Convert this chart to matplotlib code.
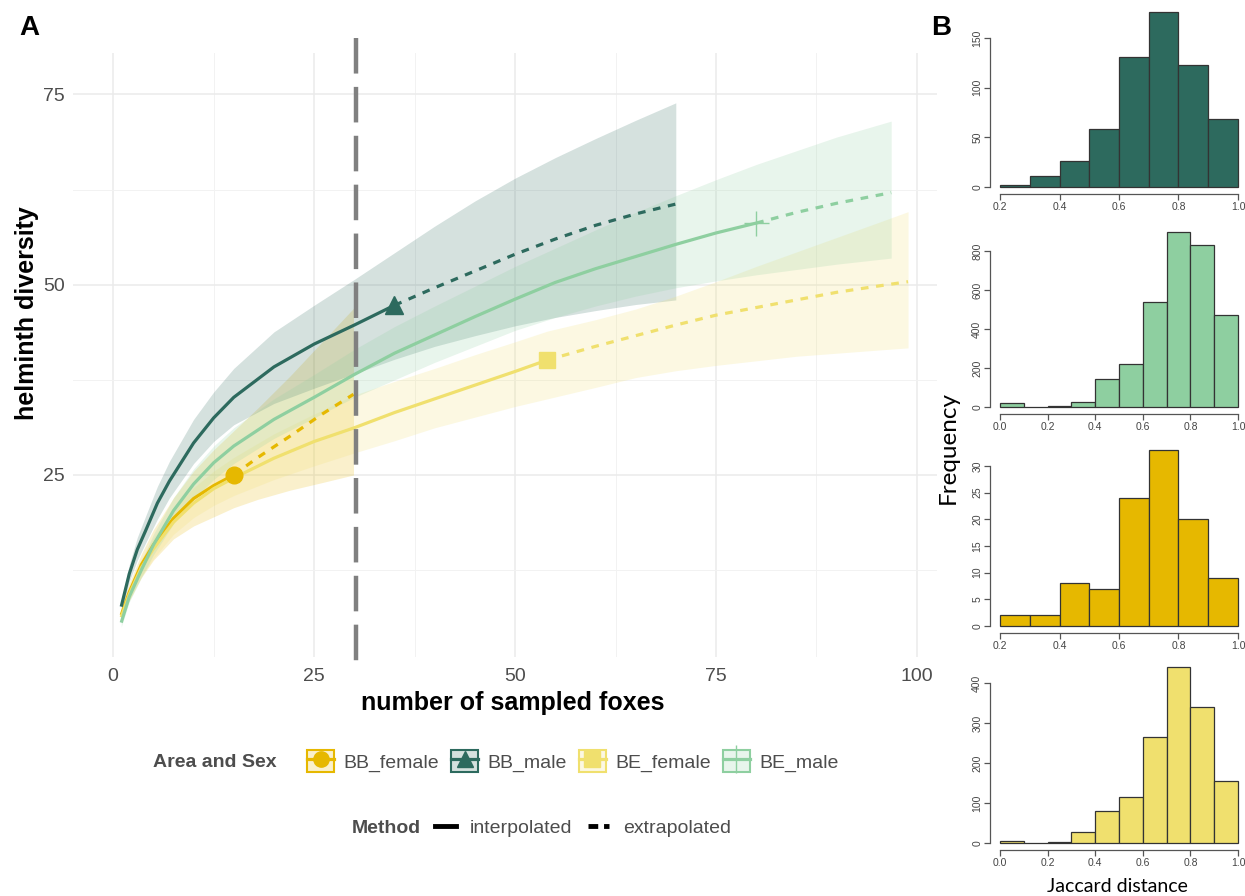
import numpy as np
import matplotlib.pyplot as plt
from matplotlib.patches import Patch
from matplotlib.lines import Line2D
from matplotlib.colors import to_rgba

plt.rcParams['font.family'] = ['Liberation Sans', 'DejaVu Sans']

W, H = 1245, 896

# ---- panel A: sample-size based rarefaction / extrapolation ----
groups = ['BB_female', 'BB_male', 'BE_female', 'BE_male']
colors = ['#E6B800', '#2D6A5E', '#F0E06E', '#8ECFA0']
markers = ['o', '^', 's', '+']
n_obs = [15, 35, 54, 80]

bb_female_m = [1, 2, 3.5, 5, 7.5, 10, 12.5, 15, 18, 22, 26, 29.9]
bb_female_div = [6.6, 9.6, 13.2, 15.8, 19.3, 21.9, 23.6, 25.0, 27.3, 30.1, 33.0, 35.6]
bb_female_lo = [5.8, 8.5, 11.5, 13.8, 16.6, 18.3, 19.5, 20.7, 21.8, 23.0, 24.0, 25.0]
bb_female_hi = [7.4, 10.8, 14.6, 17.8, 22.0, 25.5, 28.3, 30.8, 33.8, 38.0, 42.5, 46.9]

bb_male_m = [1, 2, 3, 4, 5.5, 7, 10, 12.5, 15, 20, 25, 30, 35, 40, 45, 50, 55, 60, 65, 70]
bb_male_div = [7.7, 12.0, 15.2, 17.6, 21.3, 24.2, 29.2, 32.5, 35.2, 39.2, 42.2, 44.7, 47.3, 49.6, 51.8, 54.0, 56.0, 57.8, 59.3, 60.6]
bb_male_lo = [7.0, 11.0, 13.8, 16.0, 19.2, 22.0, 26.5, 29.4, 31.6, 34.4, 36.4, 38.3, 40.2, 41.9, 43.3, 44.6, 45.7, 46.6, 47.4, 48.0]
bb_male_hi = [8.5, 13.2, 16.8, 19.5, 23.5, 26.8, 32.3, 35.9, 39.0, 43.8, 47.3, 50.7, 54.2, 57.7, 61.0, 64.0, 66.7, 69.2, 71.6, 73.9]

be_female_m = [1, 2, 3.5, 5, 7.5, 10, 12.5, 15, 20, 25, 30, 35, 40, 45, 50, 54, 60, 65, 70, 75, 80, 85, 90, 95, 98.9]
be_female_div = [6.3, 9.3, 12.8, 15.3, 18.8, 21.3, 23.2, 24.6, 27.2, 29.4, 31.2, 33.2, 35.0, 36.8, 38.6, 40.1, 41.9, 43.3, 44.7, 46.0, 47.0, 48.0, 49.0, 49.8, 50.4]
be_female_lo = [5.7, 8.5, 11.7, 14.0, 17.2, 19.4, 21.0, 22.3, 24.4, 26.2, 27.9, 29.5, 31.2, 32.6, 34.0, 35.0, 36.5, 37.8, 38.7, 39.4, 40.0, 40.6, 41.0, 41.4, 41.7]
be_female_hi = [6.9, 10.2, 14.0, 16.7, 20.5, 23.3, 25.5, 27.3, 30.4, 33.0, 35.5, 37.3, 39.0, 40.8, 42.5, 43.9, 45.4, 46.8, 48.5, 50.4, 52.4, 54.3, 56.2, 58.1, 59.6]

be_male_m = [1, 2, 3.5, 5, 7.5, 10, 12.5, 15, 20, 25, 30, 35, 40, 45, 50, 55, 60, 65, 70, 75, 80, 85, 90, 96.8]
be_male_div = [5.6, 9.0, 12.5, 15.8, 20.3, 23.8, 26.6, 28.8, 32.3, 35.2, 38.2, 41.0, 43.4, 45.8, 48.1, 50.3, 52.1, 53.7, 55.3, 56.8, 58.1, 59.5, 60.7, 62.1]
be_male_lo = [5.0, 8.3, 11.5, 14.5, 18.6, 21.8, 24.4, 26.5, 29.8, 32.5, 35.2, 37.5, 39.8, 41.9, 44.0, 45.7, 47.2, 48.5, 49.6, 50.5, 51.3, 52.0, 52.7, 53.5]
be_male_hi = [6.2, 9.8, 13.6, 17.2, 22.0, 25.8, 28.8, 31.2, 35.0, 38.2, 41.5, 44.5, 47.2, 49.8, 52.4, 54.8, 57.2, 59.5, 61.7, 63.8, 65.8, 67.6, 69.4, 71.5]

curves = [
    (bb_female_m, bb_female_div, bb_female_lo, bb_female_hi),
    (bb_male_m, bb_male_div, bb_male_lo, bb_male_hi),
    (be_female_m, be_female_div, be_female_lo, be_female_hi),
    (be_male_m, be_male_div, be_male_lo, be_male_hi),
]
cutoff = 30.2

# ---- panel B: Jaccard distance histograms ----
hist_bb_male_edges = [0.2, 0.3, 0.4, 0.5, 0.6, 0.7, 0.8, 0.9, 1.0]
hist_bb_male = [2, 11, 26, 58, 131, 176, 123, 68]
hist_be_male_edges = [0.0, 0.1, 0.2, 0.3, 0.4, 0.5, 0.6, 0.7, 0.8, 0.9, 1.0]
hist_be_male = [20, 0, 5, 25, 145, 220, 540, 895, 830, 470]
hist_bb_female_edges = [0.2, 0.3, 0.4, 0.5, 0.6, 0.7, 0.8, 0.9, 1.0]
hist_bb_female = [2, 2, 8, 7, 24, 33, 20, 9]
hist_be_female_edges = [0.0, 0.1, 0.2, 0.3, 0.4, 0.5, 0.6, 0.7, 0.8, 0.9, 1.0]
hist_be_female = [4, 0, 2, 27, 80, 115, 265, 440, 340, 155]

hists = [
    (hist_bb_male_edges, hist_bb_male, colors[1], [0.2, 0.4, 0.6, 0.8, 1.0], [0, 50, 100, 150]),
    (hist_be_male_edges, hist_be_male, colors[3], [0.0, 0.2, 0.4, 0.6, 0.8, 1.0], [0, 200, 400, 600, 800]),
    (hist_bb_female_edges, hist_bb_female, colors[0], [0.2, 0.4, 0.6, 0.8, 1.0], [0, 5, 10, 15, 20, 25, 30]),
    (hist_be_female_edges, hist_be_female, colors[2], [0.0, 0.2, 0.4, 0.6, 0.8, 1.0], [0, 100, 200, 300, 400]),
]
hist_boxes = [(990.5, 5, 1247.5, 194), (990.5, 225.5, 1247.5, 414),
              (990.5, 443, 1247.5, 633), (990.5, 660, 1247.5, 850)]


def px_box(l, t, r, b):
    return [l / W, 1 - b / H, (r - l) / W, (b - t) / H]


fig = plt.figure(figsize=(W / 100, H / 100), dpi=100)

ax = fig.add_axes(px_box(73, 53, 937, 657))
for (m, d, lo, hi), c in zip(curves, colors):
    ax.fill_between(m, lo, hi, color=c, alpha=0.2, lw=0)
for (m, d, lo, hi), c, n in zip(curves, colors, n_obs):
    m = np.array(m)
    d = np.array(d)
    inter = m <= n
    extra = m >= n
    ax.plot(m[inter], d[inter], color=c, lw=2.3, solid_capstyle='butt')
    ax.plot(m[extra], d[extra], color=c, lw=2.3, dashes=(2.4, 2.4))
for (m, d, lo, hi), c, n, mk in zip(curves, colors, n_obs, markers):
    i = list(m).index(n)
    if mk == '+':
        ax.plot(m[i], d[i], marker='+', color=c, ms=18, mew=1.0)
    else:
        ax.plot(m[i], d[i], marker=mk, color=c, ms=12 if mk != '^' else 13, mec=c)

ax.axvline(cutoff, ymin=1.025, ymax=-0.01, color='#808080', lw=3.2,
           dashes=(8, 3), clip_on=False, zorder=5)

ax.set_xlim(-5, 102.5)
ax.set_ylim(1.08, 80.45)
ax.set_xticks([0, 25, 50, 75, 100])
ax.set_xticks([12.5, 37.5, 62.5, 87.5], minor=True)
ax.set_yticks([25, 50, 75])
ax.set_yticks([12.5, 37.5, 62.5], minor=True)
ax.grid(which='major', color='#EBEBEB', lw=1.1)
ax.grid(which='minor', color='#F2F2F2', lw=0.7)
ax.set_axisbelow(True)
for s in ax.spines.values():
    s.set_visible(False)
ax.tick_params(which='both', length=0, labelsize=14, labelcolor='#4D4D4D')
ax.tick_params(axis='y', pad=6)
ax.tick_params(axis='x', pad=8)

fig.text(513 / W, 1 - 703 / H, 'number of sampled foxes', ha='center', va='center',
         fontsize=18, fontweight='bold')
fig.text(27 / W, 1 - 313 / H, 'helminth diversity', ha='center', va='center',
         rotation=90, fontsize=18, fontweight='bold')
fig.text(19 / W, 1 - 28 / H, 'A', ha='left', va='center', fontsize=20, fontweight='bold')
fig.text(931 / W, 1 - 28 / H, 'B', ha='left', va='center', fontsize=20, fontweight='bold')

# legends
fig.text(153 / W, 1 - 762 / H, 'Area and Sex', ha='left', va='center', fontsize=14,
         fontweight='bold', color='#4D4D4D')
handles = []
for c, mk in zip(colors, markers):
    box = Patch(facecolor=to_rgba(c, 0.2), edgecolor=c, lw=1.5)
    if mk == '+':
        ln = Line2D([], [], color=c, lw=2.3, marker='+', ms=20, mew=1.0)
    else:
        ln = Line2D([], [], color=c, lw=2.3, marker=mk, ms=11, mec=c)
    handles.append((box, ln))
fig.legend(handles, groups, loc='center left', bbox_to_anchor=(307 / W, 1 - 761 / H),
           ncol=4, frameon=False, fontsize=14, handlelength=1.39, handleheight=1.39,
           handletextpad=0.5, columnspacing=0.6, borderpad=0, borderaxespad=0,
           labelcolor='#4D4D4D')

fig.text(352 / W, 1 - 828 / H, 'Method', ha='left', va='center', fontsize=14,
         fontweight='bold', color='#4D4D4D')
mhandles = [Line2D([], [], color='black', lw=3.5),
            Line2D([], [], color='black', lw=3.5, dashes=(2, 1.2))]
fig.legend(mhandles, ['interpolated', 'extrapolated'], loc='center left',
           bbox_to_anchor=(435 / W, 1 - 828 / H), ncol=2, frameon=False, fontsize=14,
           handlelength=1.1, handletextpad=0.7, columnspacing=0.8, borderpad=0,
           borderaxespad=0, labelcolor='#4D4D4D')

# panel B
for (edges, counts, c, xt, yt), box in zip(hists, hist_boxes):
    hx = fig.add_axes(px_box(*box))
    hx.bar(edges[:-1], counts, width=np.diff(edges), align='edge', color=c,
           edgecolor='#333333', lw=0.9)
    xr = edges[-1] - edges[0]
    hx.set_xlim(edges[0] - 0.04 * xr, edges[-1] + 0.04 * xr)
    ymax = max(counts)
    hx.set_ylim(-0.04 * ymax, ymax * 1.04)
    hx.set_xticks(xt)
    hx.set_yticks(yt)
    hx.set_xticklabels(['%.1f' % v for v in xt])
    hx.spines['top'].set_visible(False)
    hx.spines['right'].set_visible(False)
    hx.spines['left'].set_bounds(yt[0], yt[-1])
    hx.spines['bottom'].set_bounds(xt[0], xt[-1])
    for s in ('left', 'bottom'):
        hx.spines[s].set_color('#555555')
        hx.spines[s].set_linewidth(0.9)
    hx.tick_params(length=4, width=0.9, color='#555555', labelsize=7.5,
                   labelcolor='#444444', pad=2)
    for lab in hx.get_yticklabels():
        lab.set_rotation(90)
        lab.set_va('center')
    hx.patch.set_alpha(0)

fig.text(948 / W, 1 - 447 / H, 'Frequency', ha='center', va='center', rotation=90,
         fontsize=17.5, family=['Lato', 'DejaVu Sans'])
fig.text(1117 / W, 1 - 886 / H, 'Jaccard distance', ha='center', va='center',
         fontsize=14, family=['Lato', 'DejaVu Sans'])

fig.savefig('out.png', dpi=100)
